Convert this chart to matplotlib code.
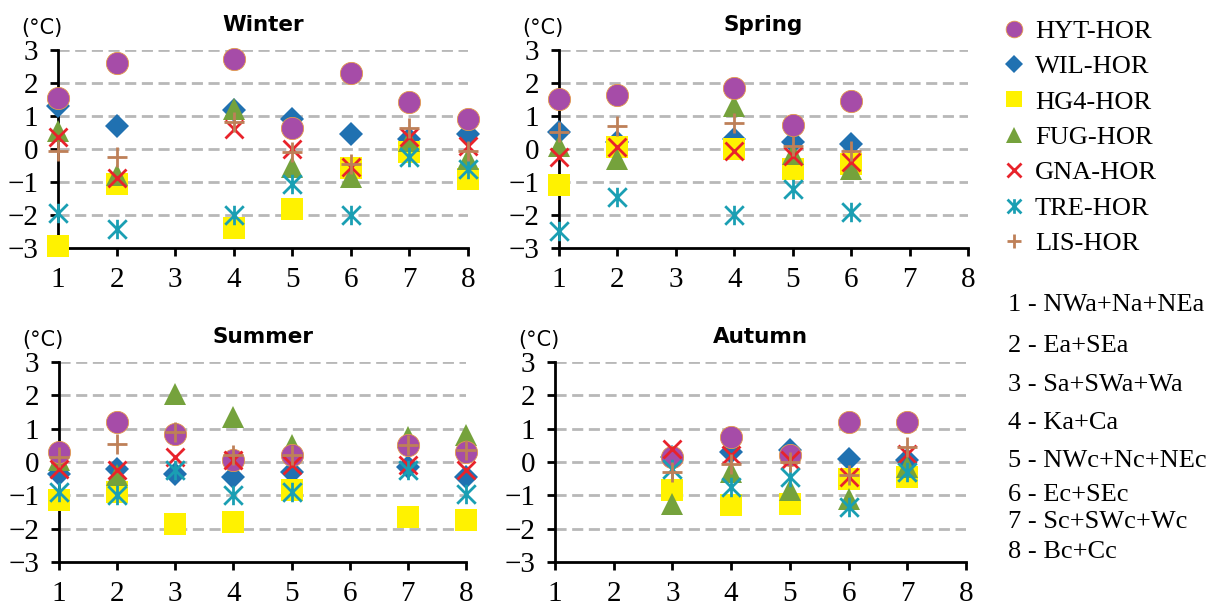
import numpy as np
import matplotlib.pyplot as plt
from matplotlib.path import Path
from matplotlib.lines import Line2D

plt.rcParams["font.family"] = ["Liberation Serif", "DejaVu Serif"]

nan = np.nan
regions = [1, 2, 3, 4, 5, 6, 7, 8]
series = ["HYT-HOR", "WIL-HOR", "HG4-HOR", "FUG-HOR", "GNA-HOR", "TRE-HOR", "LIS-HOR"]
region_names = ["1 - NWa+Na+NEa", "2 - Ea+SEa", "3 - Sa+SWa+Wa", "4 - Ka+Ca",
                "5 - NWc+Nc+NEc", "6 - Ec+SEc", "7 - Sc+SWc+Wc", "8 - Bc+Cc"]

# temperature differences (°C) per region, one list per model
winter = {
    "HYT-HOR": [1.55, 2.6, nan, 2.72, 0.65, 2.3, 1.43, 0.9],
    "WIL-HOR": [1.3, 0.7, nan, 1.18, 0.9, 0.45, 0.3, 0.45],
    "HG4-HOR": [-2.95, -1.05, nan, -2.38, -1.83, -0.57, -0.1, -0.9],
    "FUG-HOR": [0.55, -0.78, nan, 1.2, -0.54, -0.85, 0.25, -0.3],
    "GNA-HOR": [0.37, -0.89, nan, 0.6, 0.0, -0.55, 0.35, 0.1],
    "TRE-HOR": [-1.95, -2.42, nan, -2.0, -1.05, -2.0, -0.25, -0.6],
    "LIS-HOR": [-0.05, -0.25, nan, 0.83, -0.1, -0.45, 0.63, -0.05],
}
spring = {
    "HYT-HOR": [1.5, 1.65, nan, 1.85, 0.72, 1.45, nan, nan],
    "WIL-HOR": [0.5, 0.2, nan, 0.3, 0.2, 0.15, nan, nan],
    "HG4-HOR": [-1.08, 0.05, nan, 0.0, -0.6, -0.45, nan, nan],
    "FUG-HOR": [0.1, -0.3, nan, 1.3, -0.15, -0.6, nan, nan],
    "GNA-HOR": [-0.25, 0.05, nan, -0.05, -0.2, -0.4, nan, nan],
    "TRE-HOR": [-2.47, -1.45, nan, -2.0, -1.2, -1.9, nan, nan],
    "LIS-HOR": [0.53, 0.7, nan, 0.8, 0.1, -0.05, nan, nan],
}
summer = {
    "HYT-HOR": [0.3, 1.2, 0.85, 0.05, 0.2, nan, 0.5, 0.3],
    "WIL-HOR": [-0.35, -0.2, -0.35, -0.45, -0.3, nan, -0.15, -0.45],
    "HG4-HOR": [-1.15, -0.9, -1.85, -1.8, -0.85, nan, -1.65, -1.75],
    "FUG-HOR": [0.05, -0.4, 2.05, 1.35, 0.5, nan, 0.75, 0.8],
    "GNA-HOR": [-0.2, -0.25, 0.15, 0.05, -0.1, nan, -0.1, -0.25],
    "TRE-HOR": [-0.9, -1.0, -0.25, -1.0, -0.9, nan, -0.25, -0.95],
    "LIS-HOR": [0.15, 0.55, 0.9, 0.2, 0.2, nan, 0.5, 0.35],
}
autumn = {
    "HYT-HOR": [nan, nan, 0.15, 0.75, 0.2, 1.2, 1.2, nan],
    "WIL-HOR": [nan, nan, 0.15, 0.3, 0.35, 0.1, 0.05, nan],
    "HG4-HOR": [nan, nan, -0.85, -1.3, -1.25, -0.5, -0.45, nan],
    "FUG-HOR": [nan, nan, -1.25, -0.3, -0.85, -1.1, -0.15, nan],
    "GNA-HOR": [nan, nan, 0.4, 0.2, 0.05, -0.45, 0.25, nan],
    "TRE-HOR": [nan, nan, -0.2, -0.75, -0.45, -1.35, -0.3, nan],
    "LIS-HOR": [nan, nan, -0.3, -0.05, 0.0, -0.4, 0.45, nan],
}

star = Path([(-1, -1), (1, 1), (-1, 1), (1, -1), (0, -1.05), (0, 1.05)],
            [Path.MOVETO, Path.LINETO, Path.MOVETO, Path.LINETO, Path.MOVETO, Path.LINETO])

styles = {
    "HYT-HOR": dict(marker="o", ms=16, mfc="#A64CA8", mec="#E39A4A", mew=0.6, zorder=4.5),
    "WIL-HOR": dict(marker="D", ms=12, mfc="#2071B1", mec="#2071B1", mew=0, zorder=4.1),
    "HG4-HOR": dict(marker="s", ms=16, mfc="#FFF200", mec="#FFF200", mew=0, zorder=4.2),
    "FUG-HOR": dict(marker="^", ms=15.5, mfc="#75A23C", mec="#75A23C", mew=0, zorder=4.3),
    "GNA-HOR": dict(marker="x", ms=13, mec="#E8232B", mew=2, zorder=4.6),
    "TRE-HOR": dict(marker=star, ms=14, mec="#1A9FB3", mew=2, zorder=4.7),
    "LIS-HOR": dict(marker="+", ms=14, mec="#BE8058", mew=2, zorder=4.8),
}

fig = plt.figure(figsize=(12.22, 6.09), dpi=100)
W, H = 1222, 609
panels = [("Winter", winter, (58, 468, 50, 248)),
          ("Spring", spring, (559, 968, 50, 248)),
          ("Summer", summer, (59, 466, 362, 562)),
          ("Autumn", autumn, (555, 966, 362, 562))]

for title, data, (x0, x1, ytop, ybot) in panels:
    ax = fig.add_axes([x0 / W, 1 - ybot / H, (x1 - x0) / W, (ybot - ytop) / H])
    for name in series:
        ax.plot(regions, data[name], linestyle="none", clip_on=False, **styles[name])
    ax.set_xlim(1, 8)
    ax.set_ylim(-3, 3)
    ax.set_xticks(regions)
    ax.set_yticks(range(-3, 4))
    for yv in range(-2, 4):
        ax.axhline(yv, color="#B8B8B8", lw=2, ls=(0, (4, 2)), zorder=1)
    for s in ["top", "right"]:
        ax.spines[s].set_visible(False)
    for s in ["left", "bottom"]:
        ax.spines[s].set_linewidth(2)
        ax.spines[s].set_zorder(3)
    ax.tick_params(direction="out", length=6, width=2, labelsize=21)
    ax.tick_params(axis="x", pad=8)
    ax.tick_params(axis="y", pad=8)
    ax.set_title(title, fontsize=15.5, fontweight="bold", family="DejaVu Sans", pad=14)
    ax.text(-0.09, 1.06, "(°C)", transform=ax.transAxes, fontsize=15,
            family="DejaVu Sans", va="bottom", ha="left")

handles = [Line2D([], [], linestyle="none", **{k: v for k, v in styles[n].items() if k != "zorder"})
           for n in series]
for h in handles:
    h.set_markersize(h.get_markersize() * 0.75)
fig.legend(handles, series, loc="upper left", bbox_to_anchor=(990 / W, 1 - 9 / H),
           frameon=False, prop={"size": 19},
           handletextpad=0.3, labelspacing=0.45, handlelength=1.0, borderaxespad=0)

ys = [305, 346, 385, 423, 461, 495, 522, 552]
for txt, yy in zip(region_names, ys):
    fig.text(1008 / W, 1 - yy / H, txt, fontsize=19, va="center", ha="left")

fig.savefig("out.png", dpi=100)
